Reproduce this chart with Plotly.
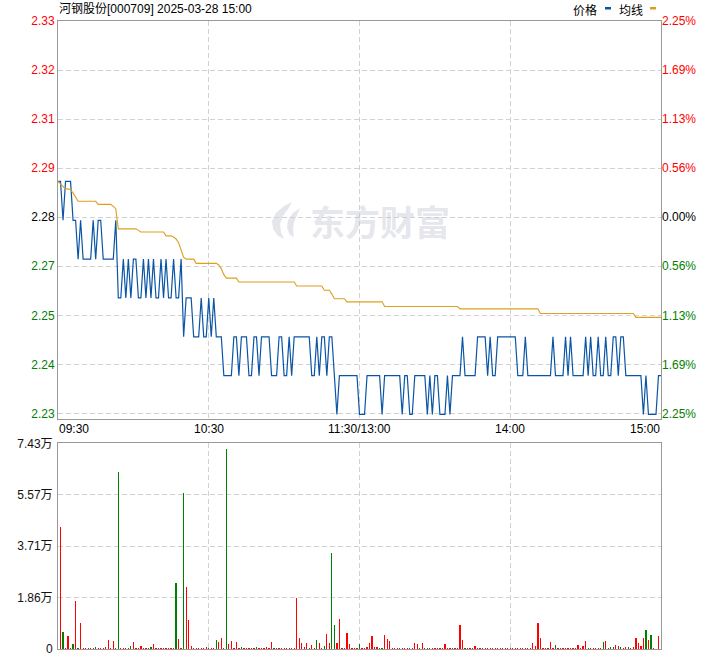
import plotly.graph_objects as go

# ---------------- data ----------------
title_text = "河钢股份[000709] 2025-03-28 15:00"
time_labels = ["09:30", "10:30", "11:30/13:00", "14:00", "15:00"]
time_label_idx = [0, 60, 120, 180, 240]

price_tick_text = ["2.23", "2.24", "2.25", "2.27", "2.28", "2.29", "2.31", "2.32", "2.33"]
pct_tick_text = ["2.25%", "1.69%", "1.13%", "0.56%", "0.00%", "0.56%", "1.13%", "1.69%", "2.25%"]
vol_tick_vals = [0, 18575, 37150, 55725, 74300]
vol_tick_text = ["0", "1.86万", "3.71万", "5.57万", "7.43万"]

price = [
    2.29, 2.29, 2.28, 2.29, 2.29, 2.29, 2.28, 2.28, 2.27, 2.28,
    2.27, 2.27, 2.27, 2.27, 2.28, 2.27, 2.28, 2.28, 2.27, 2.27,
    2.27, 2.27, 2.27, 2.28, 2.26, 2.26, 2.27, 2.26, 2.27, 2.26,
    2.27, 2.27, 2.26, 2.26, 2.27, 2.26, 2.27, 2.26, 2.27, 2.26,
    2.26, 2.27, 2.26, 2.27, 2.26, 2.26, 2.27, 2.26, 2.26, 2.27,
    2.25, 2.26, 2.26, 2.26, 2.25, 2.25, 2.25, 2.26, 2.25, 2.25,
    2.26, 2.25, 2.26, 2.25, 2.25, 2.25, 2.24, 2.24, 2.24, 2.24,
    2.25, 2.25, 2.24, 2.25, 2.25, 2.25, 2.24, 2.24, 2.25, 2.25,
    2.24, 2.25, 2.25, 2.25, 2.25, 2.24, 2.24, 2.24, 2.25, 2.25,
    2.24, 2.24, 2.25, 2.24, 2.25, 2.25, 2.25, 2.25, 2.25, 2.25,
    2.25, 2.24, 2.24, 2.25, 2.24, 2.25, 2.25, 2.24, 2.25, 2.25,
    2.24, 2.23, 2.24, 2.24, 2.24, 2.24, 2.24, 2.24, 2.24, 2.24,
    2.23, 2.23, 2.23, 2.24, 2.24, 2.24, 2.24, 2.24, 2.24, 2.23,
    2.24, 2.24, 2.24, 2.24, 2.24, 2.24, 2.24, 2.23, 2.24, 2.24,
    2.23, 2.23, 2.24, 2.24, 2.24, 2.24, 2.24, 2.23, 2.24, 2.23,
    2.24, 2.24, 2.23, 2.23, 2.23, 2.24, 2.23, 2.24, 2.24, 2.24,
    2.24, 2.25, 2.24, 2.24, 2.24, 2.24, 2.24, 2.25, 2.25, 2.25,
    2.25, 2.24, 2.25, 2.24, 2.24, 2.25, 2.25, 2.25, 2.25, 2.25,
    2.25, 2.25, 2.25, 2.24, 2.24, 2.24, 2.25, 2.24, 2.24, 2.24,
    2.24, 2.24, 2.24, 2.24, 2.24, 2.24, 2.24, 2.25, 2.24, 2.24,
    2.24, 2.24, 2.25, 2.24, 2.25, 2.24, 2.24, 2.24, 2.24, 2.24,
    2.25, 2.24, 2.25, 2.24, 2.24, 2.25, 2.24, 2.24, 2.25, 2.24,
    2.24, 2.25, 2.25, 2.24, 2.25, 2.25, 2.24, 2.24, 2.24, 2.24,
    2.24, 2.24, 2.24, 2.23, 2.24, 2.23, 2.23, 2.23, 2.23, 2.24,
    2.24,
]

avg_price = [
    2.2900, 2.2894, 2.2888, 2.2881, 2.2881, 2.2879, 2.2870, 2.2860, 2.2849, 2.2849,
    2.2849, 2.2849, 2.2849, 2.2849, 2.2849, 2.2849, 2.2841, 2.2841, 2.2841, 2.2841,
    2.2841, 2.2841, 2.2836, 2.2830, 2.2778, 2.2778, 2.2778, 2.2778, 2.2778, 2.2778,
    2.2778, 2.2778, 2.2774, 2.2770, 2.2770, 2.2770, 2.2770, 2.2770, 2.2770, 2.2770,
    2.2770, 2.2770, 2.2770, 2.2760, 2.2760, 2.2760, 2.2757, 2.2752, 2.2742, 2.2725,
    2.2705, 2.2700, 2.2700, 2.2700, 2.2700, 2.2689, 2.2689, 2.2689, 2.2689, 2.2689,
    2.2689, 2.2689, 2.2689, 2.2689, 2.2685, 2.2675, 2.2660, 2.2651, 2.2651, 2.2651,
    2.2651, 2.2651, 2.2641, 2.2641, 2.2641, 2.2641, 2.2641, 2.2641, 2.2641, 2.2641,
    2.2641, 2.2641, 2.2641, 2.2641, 2.2641, 2.2641, 2.2641, 2.2641, 2.2641, 2.2641,
    2.2641, 2.2641, 2.2641, 2.2641, 2.2641, 2.2631, 2.2631, 2.2631, 2.2631, 2.2631,
    2.2631, 2.2631, 2.2631, 2.2631, 2.2631, 2.2631, 2.2620, 2.2620, 2.2620, 2.2610,
    2.2598, 2.2598, 2.2598, 2.2598, 2.2598, 2.2590, 2.2590, 2.2590, 2.2590, 2.2590,
    2.2590, 2.2590, 2.2590, 2.2590, 2.2590, 2.2590, 2.2590, 2.2590, 2.2590, 2.2590,
    2.2578, 2.2578, 2.2578, 2.2578, 2.2578, 2.2578, 2.2578, 2.2578, 2.2578, 2.2578,
    2.2578, 2.2578, 2.2578, 2.2578, 2.2578, 2.2578, 2.2578, 2.2578, 2.2578, 2.2578,
    2.2578, 2.2578, 2.2578, 2.2578, 2.2578, 2.2578, 2.2578, 2.2578, 2.2578, 2.2578,
    2.2572, 2.2572, 2.2572, 2.2572, 2.2572, 2.2572, 2.2572, 2.2572, 2.2572, 2.2572,
    2.2572, 2.2572, 2.2572, 2.2572, 2.2572, 2.2572, 2.2572, 2.2572, 2.2572, 2.2572,
    2.2572, 2.2572, 2.2572, 2.2572, 2.2572, 2.2572, 2.2572, 2.2572, 2.2572, 2.2572,
    2.2572, 2.2572, 2.2560, 2.2560, 2.2560, 2.2560, 2.2560, 2.2560, 2.2560, 2.2560,
    2.2560, 2.2560, 2.2560, 2.2560, 2.2560, 2.2560, 2.2560, 2.2560, 2.2560, 2.2560,
    2.2560, 2.2560, 2.2560, 2.2560, 2.2560, 2.2560, 2.2560, 2.2560, 2.2560, 2.2560,
    2.2560, 2.2560, 2.2560, 2.2560, 2.2560, 2.2560, 2.2560, 2.2560, 2.2560, 2.2560,
    2.2550, 2.2550, 2.2550, 2.2550, 2.2550, 2.2550, 2.2550, 2.2550, 2.2550, 2.2550,
    2.2550,
]

volume = [
    0, 44100, 6100, 400, 4800, 400, 1900, 17400, 400, 9500,
    400, 400, 400, 400, 400, 840, 400, 400, 400, 840,
    3400, 400, 3000, 400, 63900, 400, 400, 400, 400, 1200,
    2600, 400, 400, 1200, 400, 400, 400, 840, 1900, 400,
    400, 400, 400, 400, 400, 400, 400, 23900, 3700, 400,
    56400, 22500, 10600, 1200, 400, 400, 400, 400, 400, 840,
    400, 400, 400, 3400, 2600, 4100, 400, 72200, 1900, 3000,
    400, 2600, 400, 840, 400, 400, 400, 400, 400, 840,
    400, 400, 400, 840, 400, 2600, 400, 400, 400, 400,
    400, 400, 400, 400, 400, 18500, 4100, 2300, 840, 2300,
    500, 1600, 400, 3400, 2300, 400, 1200, 5500, 2300, 34700,
    8800, 2300, 10900, 400, 400, 5900, 1900, 400, 400, 400,
    1900, 400, 400, 840, 2300, 4800, 840, 840, 400, 400,
    5200, 3700, 3000, 400, 400, 400, 400, 400, 400, 400,
    400, 400, 2300, 1900, 400, 2300, 400, 400, 400, 400,
    400, 400, 400, 400, 1900, 400, 400, 400, 400, 400,
    8800, 3400, 400, 400, 400, 400, 1200, 400, 400, 400,
    400, 400, 400, 400, 400, 400, 400, 400, 400, 400,
    400, 400, 400, 400, 400, 400, 400, 400, 400, 2300,
    1200, 9500, 4100, 400, 400, 400, 2600, 400, 1600, 400,
    400, 400, 400, 400, 400, 400, 400, 1600, 400, 1200,
    3000, 400, 400, 400, 400, 400, 400, 2600, 3000, 400,
    840, 840, 1600, 1200, 840, 400, 840, 840, 400, 840,
    4100, 2300, 1200, 4100, 7000, 3400, 5200, 400, 0, 4800,
    0,
]

# minutes whose volume bar is drawn green (price down)
volume_down_idx = [2, 6, 8, 15, 24, 29, 37, 47, 50, 63, 67, 73, 77, 79, 86, 100,
                   103, 106, 109, 110, 120, 128, 129, 146, 147, 157, 162, 198,
                   211, 217, 220, 221, 224, 227, 234, 236]

# ---------------- styling ----------------
PRICE_COLOR = "#0b55a6"
AVG_COLOR = "#dca01e"
RED = "#ff0000"
GREEN = "#008000"
GRID = "#d2d2d2"
AXIS = "#999999"
DASH = "5px,3px"
WATERMARK = "rgba(190,192,205,0.40)"
NUMFONT = "Liberation Sans, Arial, Noto Sans CJK SC, sans-serif"

# price axis scale (matches the reference pixel geometry)
Y_LO, Y_HI = 2.228829, 2.331327
TICK_LO, TICK_STEP = 2.230271, 0.012632
price_tick_vals = [TICK_LO + k * TICK_STEP for k in range(len(price_tick_text))]

def colored(texts, mid):
    out = []
    for k, t in enumerate(texts):
        c = GREEN if k < mid else (RED if k > mid else "#000000")
        out.append('<span style="color:%s">%s</span>' % (c, t))
    return out

left_text = colored(price_tick_text, 4)
right_text = colored(pct_tick_text, 4)

idx = list(range(len(price)))
down = set(volume_down_idx)
bar_colors = [GREEN if i in down else RED for i in range(len(volume))]

fig = go.Figure()
fig.add_trace(go.Scatter(x=idx, y=price, mode="lines", xaxis="x", yaxis="y",
                         line=dict(color=PRICE_COLOR, width=1.2), hoverinfo="skip"))
fig.add_trace(go.Scatter(x=idx, y=avg_price, mode="lines", xaxis="x", yaxis="y2",
                         line=dict(color=AVG_COLOR, width=1.1), hoverinfo="skip"))
fig.add_trace(go.Bar(x=list(range(len(volume))), y=volume, xaxis="x2", yaxis="y3",
                     width=0.5, marker=dict(color=bar_colors, line=dict(width=0)),
                     hoverinfo="skip"))

PLOT_TOP = 21
PLOT_BOT = 649
PLOT_L = 58
PLOT_W = 603
H = PLOT_BOT - PLOT_TOP
def py(pix):
    return (PLOT_BOT - pix) / H
def px(pix):
    return (pix - PLOT_L) / PLOT_W

xcommon = dict(range=[0, 240], tickvals=[60, 120, 180], showticklabels=False, ticks="",
               showgrid=True, gridcolor=GRID, griddash=DASH, gridwidth=1,
               showline=True, linecolor=AXIS, linewidth=1, mirror=True,
               zeroline=False, fixedrange=True, automargin=False)

fig.update_layout(
    width=720, height=655,
    margin=dict(l=PLOT_L, r=720 - PLOT_L - PLOT_W, t=PLOT_TOP, b=655 - PLOT_BOT, autoexpand=False),
    paper_bgcolor="white", plot_bgcolor="white",
    showlegend=False,
    font=dict(family=NUMFONT, size=12, color="#000000"),
    xaxis=dict(domain=[0, 1], anchor="y", **xcommon),
    xaxis2=dict(domain=[0, 1], anchor="y3", **xcommon),
    yaxis=dict(domain=[py(419), 1], range=[Y_LO, Y_HI], tickmode="array",
               tickvals=price_tick_vals, ticktext=left_text, ticks="",
               showgrid=True, gridcolor=GRID, griddash=DASH,
               showline=True, linecolor=AXIS, mirror=True, zeroline=False,
               tickfont=dict(family=NUMFONT, size=12), fixedrange=True, automargin=False,
               ticklabeloverflow="allow"),
    yaxis2=dict(overlaying="y", side="right", anchor="x", range=[Y_LO, Y_HI],
                tickmode="array", tickvals=price_tick_vals, ticktext=right_text,
                ticks="", showgrid=False, zeroline=False, showline=False,
                tickfont=dict(family=NUMFONT, size=12), fixedrange=True, automargin=False,
                ticklabeloverflow="allow"),
    yaxis3=dict(domain=[0, py(443.3)], anchor="x2", range=[0, 74300], tickmode="array",
                tickvals=vol_tick_vals, ticktext=vol_tick_text, ticks="",
                showgrid=True, gridcolor=GRID, griddash=DASH,
                showline=True, linecolor=AXIS, mirror=True, zeroline=False,
                tickfont=dict(family=NUMFONT, size=12, color="#111111"), fixedrange=True,
                automargin=False, ticklabelstandoff=2, ticklabeloverflow="allow"),
    bargap=0,
)

annotations = []
# time labels under the price panel
for lab, ix in zip(time_labels, time_label_idx):
    anchor = "center"
    if ix == time_label_idx[0]:
        anchor = "left"
    elif ix == time_label_idx[-1]:
        anchor = "right"
    annotations.append(dict(x=ix, y=py(429), xref="x", yref="paper", text=lab,
                            showarrow=False, xanchor=anchor, yanchor="middle",
                            font=dict(family=NUMFONT, size=12, color="#000000"),
                            borderpad=0))
# title
annotations.append(dict(x=0, y=py(9), xref="paper", yref="paper", text=title_text,
                        showarrow=False, xanchor="left", yanchor="middle", borderpad=0,
                        font=dict(family=NUMFONT, size=12, color="#000000")))
# legend texts
annotations.append(dict(x=px(585), y=py(9), xref="paper", yref="paper", text="价格",
                        showarrow=False, xanchor="center", yanchor="middle", borderpad=0,
                        font=dict(family="Noto Sans CJK SC", size=12, color="#000000")))
annotations.append(dict(x=px(631), y=py(9), xref="paper", yref="paper", text="均线",
                        showarrow=False, xanchor="center", yanchor="middle", borderpad=0,
                        font=dict(family="Noto Sans CJK SC", size=12, color="#000000")))
# watermark
annotations.append(dict(x=px(380), y=py(220), xref="paper", yref="paper",
                        text="<b>东方财富</b>", showarrow=False, xanchor="center", yanchor="middle",
                        font=dict(family="Noto Sans CJK SC", size=35, color=WATERMARK)))
fig.update_layout(annotations=annotations)

def pth(points):
    # build an SVG path in paper coordinates from pixel points
    s = "M %.4f,%.4f" % (px(points[0][0]), py(points[0][1]))
    for a, b in points[1:]:
        s += " L %.4f,%.4f" % (px(a), py(b))
    return s + " Z"

logo_outer = [(292, 202), (284, 206), (276, 213), (272, 221), (273, 229), (278, 236),
              (284, 239), (281, 232), (280, 224), (283, 216), (288, 209)]
logo_inner = [(300, 208), (293, 213), (288, 220), (287, 228), (290, 235), (294, 237),
              (293, 230), (294, 222), (297, 215)]

shapes = [
    dict(type="rect", xref="paper", yref="paper",
         x0=px(605), x1=px(611), y0=py(9.5), y1=py(7),
         fillcolor=PRICE_COLOR, line=dict(width=0)),
    dict(type="rect", xref="paper", yref="paper",
         x0=px(650), x1=px(656), y0=py(9.5), y1=py(7),
         fillcolor=AVG_COLOR, line=dict(width=0)),
    dict(type="path", xref="paper", yref="paper", path=pth(logo_outer),
         fillcolor=WATERMARK, line=dict(width=0), layer="below"),
    dict(type="path", xref="paper", yref="paper", path=pth(logo_inner),
         fillcolor=WATERMARK, line=dict(width=0), layer="below"),
]
fig.update_layout(shapes=shapes)

# remove the browser's default 8px page margin so the 720x655 figure fills the window
fig.write_html("out.html", config={"displayModeBar": False, "staticPlot": True},
               post_script="document.body.style.margin='0px';document.body.style.overflow='hidden';")
